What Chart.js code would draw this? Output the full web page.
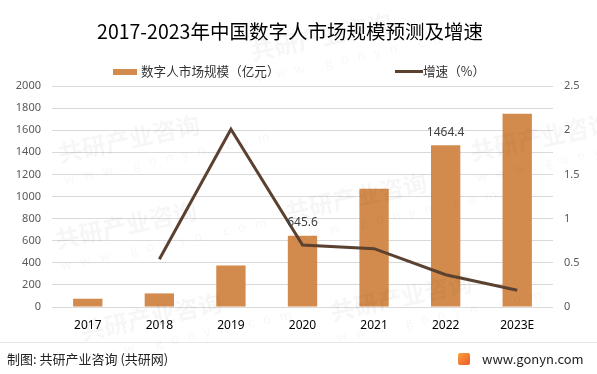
<!DOCTYPE html>
<html lang="zh-CN">
<head>
    <meta charset="UTF-8">
    <title>2017-2023年中国数字人市场规模预测及增速</title>
    <script src="https://cdn.jsdelivr.net/npm/chart.js"></script>
    <style>
        body, html {
            margin: 0;
            padding: 0;
            width: 597px;
            height: 374px;
            overflow: hidden;
            background: #ffffff;
            font-family: 'Noto Sans CJK SC', 'Noto Sans', sans-serif;
        }
        .wrap {
            position: relative;
            width: 597px;
            height: 374px;
        }
        #chart {
            position: absolute;
            left: 0;
            top: 0;
        }
        .title {
            position: absolute;
            left: 0;
            width: 580px;
            top: 17px;
            text-align: center;
            font-size: 19.5px;
            line-height: 28px;
            color: #000;
            white-space: nowrap;
        }
        .legend {
            position: absolute;
            top: 62px;
            font-size: 12.6px;
            line-height: 18px;
            color: #333;
            white-space: nowrap;
        }
        .legend .swatch {
            display: inline-block;
            vertical-align: middle;
            margin-right: 4px;
            position: relative;
            top: -1px;
        }
        .footer-line {
            position: absolute;
            left: 0;
            width: 597px;
            top: 342px;
            height: 1px;
            background: #e6e6e6;
        }
        .footer {
            position: absolute;
            top: 350px;
            font-size: 13px;
            line-height: 18px;
            color: #222;
            white-space: nowrap;
        }
        .icon {
            display: inline-block;
            width: 12px;
            height: 12px;
            background: linear-gradient(135deg, #f7a23b, #ef5a2a);
            border-radius: 2px;
            vertical-align: middle;
            margin-right: 12px;
            position: relative;
            top: -1px;
        }
        .wm {
            position: absolute;
            color: rgba(0, 0, 0, 0.035);
            font-weight: bold;
            font-size: 24px;
            transform: rotate(-12deg);
            white-space: nowrap;
            pointer-events: none;
        }
        .wm small {
            display: block;
            font-size: 13px;
            font-weight: normal;
            letter-spacing: 9px;
        }
    </style>
</head>
<body>
<div class="wrap">
    <canvas id="chart" width="597" height="374"></canvas>
    <div class="title">2017-2023年中国数字人市场规模预测及增速</div>
    <div class="legend" style="left:113px;">
        <span class="swatch" style="width:24px;height:6px;background:#d38b4d;"></span>数字人市场规模（亿元）
    </div>
    <div class="legend" style="left:395px;">
        <span class="swatch" style="width:28px;height:3px;background:#5b4130;margin-right:0;"></span>增速（%）
    </div>
    <div class="footer-line"></div>
    <div class="footer" style="left:7px;">制图: 共研产业咨询 (共研网)</div>
    <div class="footer" style="left:458px;"><span class="icon"></span>www.gonyn.com</div>

    <div class="wm" style="left:58px;top:112px;">共研产业咨询<small>www.gonyn.com</small></div>
    <div class="wm" style="left:250px;top:10px;">共研产业咨询<small>www.gonyn.com</small></div>
    <div class="wm" style="left:55px;top:198px;">共研产业咨询<small>www.gonyn.com</small></div>
    <div class="wm" style="left:285px;top:170px;">共研产业咨询<small>www.gonyn.com</small></div>
    <div class="wm" style="left:80px;top:290px;">共研产业咨询<small>www.gonyn.com</small></div>
    <div class="wm" style="left:330px;top:270px;">共研产业咨询<small>www.gonyn.com</small></div>
    <div class="wm" style="left:470px;top:110px;">共研产业咨询<small>www.gonyn.com</small></div>
</div>
<script>
    // chart data
    const categories = ['2017', '2018', '2019', '2020', '2021', '2022', '2023E'];
    const marketSize = [75, 123, 376, 645.6, 1071, 1464.4, 1749];   // 亿元
    const growthRate = [null, 0.54, 2.01, 0.70, 0.66, 0.365, 0.19];  // %
    const shownLabels = [null, null, null, '645.6', null, '1464.4', null];
    const leftTicks = [0, 200, 400, 600, 800, 1000, 1200, 1400, 1600, 1800, 2000];
    const rightTicks = [0, 0.5, 1, 1.5, 2, 2.5];

    const barColor = '#d38b4d';
    const lineColor = '#5b4130';
    const gridColor = '#d9d9d9';

    // only a couple of bars carry a value label
    const barLabels = {
        id: 'barLabels',
        afterDatasetsDraw(chart) {
            const ctx = chart.ctx;
            const meta = chart.getDatasetMeta(1);
            ctx.save();
            ctx.font = '12px "Noto Sans", sans-serif';
            ctx.fillStyle = '#404040';
            ctx.textAlign = 'center';
            ctx.textBaseline = 'middle';
            meta.data.forEach((bar, i) => {
                if (!shownLabels[i]) return;
                ctx.fillText(shownLabels[i], bar.x, bar.y - 13);
            });
            ctx.restore();
        }
    };

    new Chart(document.getElementById('chart'), {
        data: {
            labels: categories,
            datasets: [
                {
                    type: 'line',
                    label: '增速（%）',
                    data: growthRate,
                    yAxisID: 'y1',
                    borderColor: lineColor,
                    borderWidth: 3,
                    pointRadius: 0,
                    tension: 0,
                    fill: false,
                    order: 0
                },
                {
                    type: 'bar',
                    label: '数字人市场规模（亿元）',
                    data: marketSize,
                    yAxisID: 'y',
                    backgroundColor: barColor,
                    categoryPercentage: 1,
                    barPercentage: 0.41,
                    order: 1
                }
            ]
        },
        options: {
            responsive: false,
            animation: false,
            layout: { padding: { top: 86, bottom: 37, left: 0, right: 0 } },
            plugins: {
                legend: { display: false },
                title: { display: false },
                tooltip: { enabled: false }
            },
            scales: {
                x: {
                    grid: { display: false, drawTicks: false },
                    border: { display: false },
                    ticks: {
                        color: '#000',
                        font: { size: 12, family: '"Noto Sans", sans-serif' },
                        padding: 11,
                        maxRotation: 0
                    },
                    afterFit(scale) { scale.height = 30; }
                },
                y: {
                    position: 'left',
                    min: 0,
                    max: 2000,
                    grid: { color: gridColor, drawTicks: false },
                    border: { display: false },
                    afterBuildTicks(scale) { scale.ticks = leftTicks.map(v => ({ value: v })); },
                    ticks: {
                        color: '#595959',
                        font: { size: 11, family: '"Noto Sans", sans-serif' },
                        padding: 11,
                        callback: v => String(v)
                    },
                    afterFit(scale) { scale.width = 52; }
                },
                y1: {
                    position: 'right',
                    min: 0,
                    max: 2.5,
                    grid: { display: false, drawTicks: false },
                    border: { display: false },
                    afterBuildTicks(scale) { scale.ticks = rightTicks.map(v => ({ value: v })); },
                    ticks: {
                        color: '#595959',
                        font: { size: 11, family: '"Noto Sans", sans-serif' },
                        padding: 11,
                        callback: v => String(v)
                    },
                    afterFit(scale) { scale.width = 44; }
                }
            }
        },
        plugins: [barLabels]
    });
</script>
</body>
</html>
